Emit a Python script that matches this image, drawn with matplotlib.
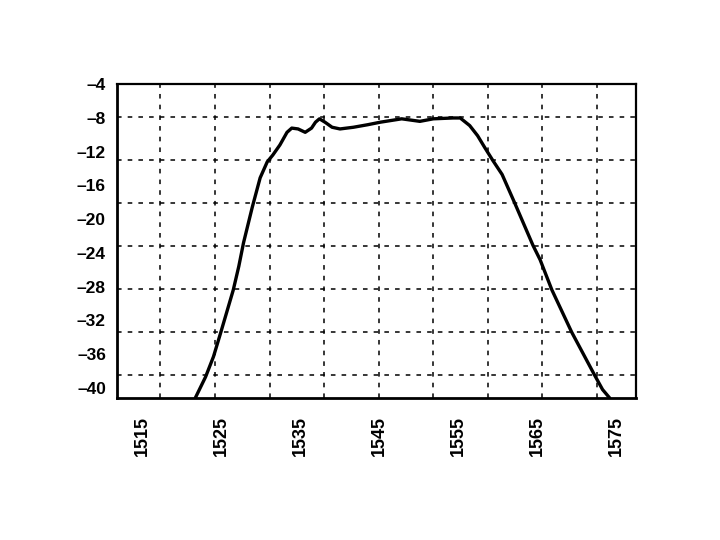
import numpy as np
import matplotlib
matplotlib.use("Agg")
import matplotlib.pyplot as plt

# wavelength (nm) and response (dB)
wavelength = [1521.7, 1523.0, 1524.0, 1524.9, 1526.5, 1527.2, 1527.8, 1528.9,
              1529.9, 1530.8, 1531.5, 1532.4, 1533.3, 1533.9, 1534.7,
              1535.6, 1536.4, 1536.9, 1537.4, 1538.1, 1539.0, 1540.0, 1541.7,
              1543.5, 1545.1, 1547.8, 1550.1, 1551.8, 1554.3, 1555.2, 1556.4,
              1557.4, 1558.3, 1559.3, 1560.5, 1562.1, 1564.4, 1565.3, 1566.8,
              1569.3, 1572.2, 1573.2, 1574.1]
response = [-41.2, -38.7, -36.3, -33.5, -28.4, -25.6, -22.8, -18.6,
            -15.1, -13.2, -12.4, -11.2, -9.7, -9.2, -9.3,
            -9.7, -9.2, -8.5, -8.1, -8.5, -9.1, -9.3, -9.1,
            -8.8, -8.5, -8.1, -8.4, -8.1, -8.0, -8.0, -8.9,
            -10.1, -11.5, -13.0, -14.7, -18.1, -23.1, -24.8, -28.4,
            -33.4, -38.5, -40.2, -41.2]

xticks = [1515, 1525, 1535, 1545, 1555, 1565, 1575]
yticks = [-4, -8, -12, -16, -20, -24, -28, -32, -36, -40]

# the scanned grid does not line up with the labels
grid_x = [1517.3, 1524.2, 1531.1, 1538.0, 1544.9, 1551.8, 1558.7, 1565.6, 1572.5]
grid_y = [-7.9, -13.0, -18.1, -23.2, -28.3, -33.4, -38.5]

plt.rcParams['font.family'] = ['Liberation Sans', 'DejaVu Sans']

fig = plt.figure(figsize=(7.2, 5.4), dpi=100)
ax = fig.add_axes([0.1625, 0.263, 0.7205, 0.581])

ax.plot(wavelength, response, color='black', lw=2.4,
        solid_capstyle='round', solid_joinstyle='round')

ax.set_xlim(1511.8, 1577.4)
ax.set_ylim(-41.2, -4)

ax.set_xticks(xticks)
ax.set_xticklabels([str(v) for v in xticks], rotation=90,
                   fontsize=13, fontweight='bold')
ax.set_yticks(yticks)
ax.set_yticklabels([str(v).replace('-', '\u2013') for v in yticks],
                   fontsize=12.5, fontweight='bold')
ax.tick_params(axis='both', length=0)
ax.tick_params(axis='x', pad=13)
ax.tick_params(axis='y', pad=8)

ax.set_xticks(grid_x, minor=True)
ax.set_yticks(grid_y, minor=True)
ax.tick_params(which='minor', length=0)
ax.grid(which='minor', color='black', linestyle=(0, (3, 4)), lw=1.1)
ax.grid(which='major', visible=False)

for side in ['left', 'bottom']:
    ax.spines[side].set_linewidth(2.0)
for side in ['top', 'right']:
    ax.spines[side].set_linewidth(1.6)

fig.savefig('out.png', dpi=100)
